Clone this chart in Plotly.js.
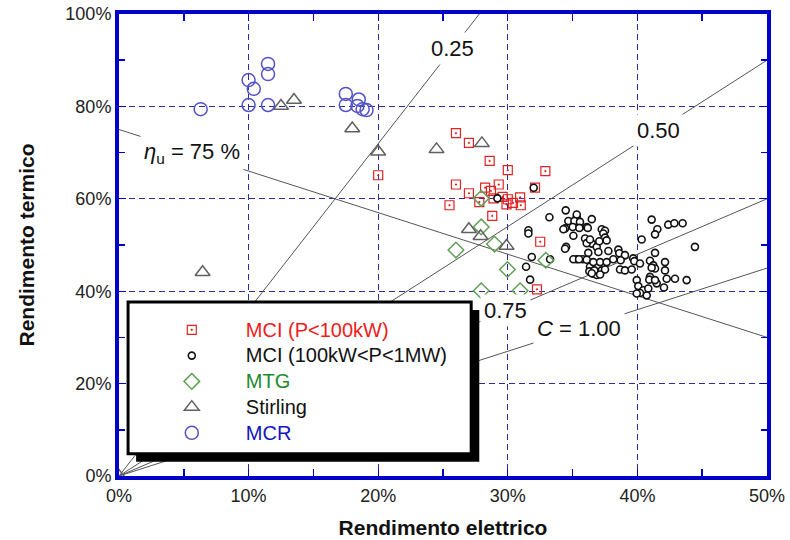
<!DOCTYPE html>
<html>
<head>
<meta charset="utf-8">
<script src="https://cdn.plot.ly/plotly-3.0.1.min.js"></script>
<style>
  html, body { margin: 0; padding: 0; background: #fff; }
  #chart { width: 790px; height: 540px; }
</style>
</head>
<body>
<div id="chart"></div>
<script>
// Rendimento elettrico / termico (%) per tecnologia di cogenerazione

// MCI (P<100kW)
const mciSmallX = [20.0, 26.0, 27.0, 28.6, 30.0, 32.9, 26.0, 27.0, 28.25, 28.7, 29.3, 25.5,
                   27.8, 28.9, 29.6, 30.0, 30.4, 30.95, 31.0, 29.9, 28.8, 32.1, 32.5, 32.25];
const mciSmallY = [65.1, 74.2, 72.1, 68.2, 66.2, 66.0, 63.1, 61.2, 62.4, 61.7, 63.1, 58.6,
                   59.3, 60.1, 60.4, 59.9, 59.1, 60.3, 58.6, 58.8, 56.3, 62.4, 50.7, 40.4];

// MCI (100kW<P<1MW)
const mciLargeX = [29.2, 32.0, 34.47, 33.21, 34.42, 35.01, 35.32, 35.57, 36.09, 36.48, 35.06, 34.5,
                   31.59, 31.59, 31.85, 31.41, 31.72, 35.96, 36.48, 36.86, 35.32, 35.78, 36.34, 36.6,
                   36.86, 35.32, 34.67, 35.14, 35.57, 34.29, 35.01, 35.52, 36.17, 37.25, 37.5, 37.37,
                   37.5, 37.63, 37.06, 36.09, 36.34, 34.42, 36.21, 36.99, 37.76, 38.53, 38.6, 39.04,
                   33.26, 35.06, 35.5, 36.09, 36.6, 37.12, 37.63, 38.14, 38.71, 39.68, 39.76, 40.2,
                   40.97, 41.23, 41.36, 42.13, 36.29, 36.68, 37.25, 37.5, 38.66, 39.04, 39.56, 41.1,
                   42.13, 37.12, 36.48, 40.97, 40.92, 41.49, 41.36, 42.26, 42.9, 43.8, 42.05, 39.95,
                   40.07, 40.45, 40.84, 40.72, 40.2, 39.95, 41.1, 42.38, 42.85, 43.49, 41.54, 41.36,
                   40.33, 41.36, 44.44];
const mciLargeY = [60.1, 62.4, 57.5, 56.0, 53.6, 55.0, 56.1, 53.9, 53.9, 55.6, 52.0, 49.6,
                   53.2, 52.5, 47.4, 45.3, 42.5, 51.4, 50.3, 49.6, 46.9, 46.9, 45.3, 43.8,
                   43.5, 56.6, 55.2, 55.2, 55.0, 53.4, 53.9, 53.7, 53.7, 53.4, 53.1, 52.5,
                   51.6, 51.0, 50.8, 50.4, 51.2, 49.2, 48.3, 48.5, 48.7, 49.0, 48.2, 47.8,
                   46.9, 46.9, 46.9, 46.8, 46.3, 46.3, 46.3, 46.9, 46.7, 47.1, 46.5, 46.0,
                   46.6, 45.6, 44.9, 46.3, 44.3, 44.5, 44.5, 44.7, 44.7, 44.5, 44.7, 45.1,
                   44.5, 43.6, 43.9, 43.1, 42.5, 41.7, 42.4, 42.7, 42.7, 42.4, 40.8, 42.4,
                   41.1, 40.2, 40.6, 39.1, 39.6, 39.5, 55.5, 54.4, 54.7, 54.7, 53.4, 52.3,
                   51.2, 48.3, 49.6];

// MTG
const mtgX = [27.95, 27.95, 26.0, 28.97, 29.97, 32.93, 27.95, 30.95];
const mtgY = [60.1, 53.9, 48.9, 50.2, 44.7, 46.7, 40.1, 40.1];

// Stirling
const stirX = [0, 6.45, 12.5, 13.5, 18.0, 20.0, 24.5, 28.0, 27.0, 27.9, 29.9];
const stirY = [0, 44.1, 80.1, 81.4, 75.2, 70.2, 70.7, 72.0, 53.4, 51.9, 49.8];

// MCR
const mcrX = [6.3, 10.0, 10.4, 10.0, 11.5, 11.5, 11.5, 17.5, 17.5, 18.5, 18.4, 18.8, 19.1];
const mcrY = [79.4, 85.7, 83.8, 80.3, 89.2, 87.0, 80.3, 82.7, 80.3, 81.5, 80.1, 79.4, 79.2];

// Rette a C costante (dall'origine) e retta a rendimento totale costante
const cLabels = ['0.25', '0.50', '0.75', '<i>C</i> = 1.00'];
const cLineEndX = [27.8, 50, 50, 50];
const cLineEndY = [100, 90, 60, 45];
const cLabelX = [25.7, 41.6, 29.8, 35.5];
const etaLineX = [0, 50];
const etaLineY = [75, 30];
const etaLabel = '<i>η</i><sub>u</sub> = 75 %';
const etaLabelX = 5.66;

const FONT = 'Liberation Sans, Arial, sans-serif';
const LINE_GREY = '#555555';
const FRAME = '#0000c8';

// legend entry text: 20px glyphs on a slightly tighter row pitch
const legendName = (txt, color) =>
  '<span style="color:' + color + ';font-size:20px">' + txt + '</span>';

const traces = [];

// reference lines
cLineEndX.forEach((ex, i) => {
  traces.push({
    x: [0, ex], y: [0, cLineEndY[i]], mode: 'lines', type: 'scatter',
    line: { color: LINE_GREY, width: 1 }, showlegend: false, hoverinfo: 'skip'
  });
});
traces.push({
  x: etaLineX, y: etaLineY, mode: 'lines', type: 'scatter',
  line: { color: LINE_GREY, width: 1 }, showlegend: false, hoverinfo: 'skip'
});

// data series
traces.push({
  x: mciSmallX, y: mciSmallY, mode: 'markers', type: 'scatter',
  name: legendName('MCI (P&lt;100kW)', '#ee1c1c'),
  marker: { symbol: 'square-open-dot', size: 9, color: '#e02424', line: { width: 1.2 } }
});
traces.push({
  x: mciLargeX, y: mciLargeY, mode: 'markers', type: 'scatter',
  name: legendName('MCI (100kW&lt;P&lt;1MW)', '#111111'),
  marker: { symbol: 'circle', size: 7, color: '#ffffff', line: { width: 1.6, color: '#111111' } }
});
traces.push({
  x: mtgX, y: mtgY, mode: 'markers', type: 'scatter',
  name: legendName('MTG', '#1e8a2e'),
  marker: { symbol: 'diamond-open', size: 12, color: '#62a058', line: { width: 1.5 } }
});
traces.push({
  x: stirX, y: stirY, mode: 'markers', type: 'scatter',
  name: legendName('Stirling', '#111111'),
  marker: { symbol: 'triangle-up-open', size: 13, color: '#606060', line: { width: 1.5 } }
});
traces.push({
  x: mcrX, y: mcrY, mode: 'markers', type: 'scatter',
  name: legendName('MCR', '#1414c0'),
  marker: { symbol: 'circle-open', size: 13, color: '#5252c8', line: { width: 1.5 } }
});

// line labels, placed on the lines with a white background
const annotations = cLabels.map((t, i) => ({
  x: cLabelX[i], y: cLabelX[i] * cLineEndY[i] / cLineEndX[i],
  xref: 'x', yref: 'y', text: t, showarrow: false,
  font: { family: FONT, size: 22, color: '#111' },
  bgcolor: '#ffffff', borderpad: 3
}));
annotations.push({
  x: etaLabelX,
  y: etaLineY[0] + (etaLineY[1] - etaLineY[0]) * (etaLabelX - etaLineX[0]) / (etaLineX[1] - etaLineX[0]),
  xref: 'x', yref: 'y', text: etaLabel, showarrow: false,
  font: { family: FONT, size: 22, color: '#111' },
  bgcolor: '#ffffff', borderpad: 3
});

// legend box with drop shadow
const shapes = [
  { type: 'rect', xref: 'paper', yref: 'paper', x0: 0.0264, x1: 0.556, y0: 0.031, y1: 0.3594,
    fillcolor: '#000000', line: { width: 0 }, layer: 'above' },
  { type: 'rect', xref: 'paper', yref: 'paper', x0: 0.014, x1: 0.5435, y0: 0.0483, y1: 0.3767,
    fillcolor: '#ffffff', line: { width: 3, color: '#000000' }, layer: 'above' }
];

const gridStyle = { showgrid: true, gridcolor: '#2c2ca0', gridwidth: 1, griddash: '6px,4px' };

const layout = {
  width: 790, height: 540,
  margin: { l: 119, r: 23, t: 14, b: 64 },
  paper_bgcolor: '#ffffff', plot_bgcolor: '#ffffff',
  font: { family: FONT, color: '#222' },
  showlegend: true,
  legend: {
    x: 0.029, y: 0.355, xanchor: 'left', yanchor: 'top',
    bgcolor: 'rgba(0,0,0,0)', borderwidth: 0,
    font: { family: FONT, size: 17.5, color: '#111' },
    itemwidth: 98, tracegroupgap: 0
  },
  xaxis: Object.assign({
    range: [0, 50], dtick: 10, ticksuffix: '%',
    showline: true, linecolor: FRAME, linewidth: 4, mirror: 'ticks',
    ticks: 'inside', ticklen: 7, tickcolor: FRAME,
    minor: { dtick: 5, ticks: 'inside', ticklen: 7, tickcolor: FRAME, tickwidth: 1.5, showgrid: false },
    zeroline: false,
    tickfont: { family: FONT, size: 18, color: '#222' },
    title: { text: '<b>Rendimento elettrico</b>', font: { family: FONT, size: 21, color: '#111' }, standoff: 17 }
  }, gridStyle),
  yaxis: Object.assign({
    range: [0, 100], dtick: 20, ticksuffix: '%',
    showline: true, linecolor: FRAME, linewidth: 4, mirror: 'ticks',
    ticks: 'inside', ticklen: 7, tickcolor: FRAME,
    minor: { dtick: 10, ticks: 'inside', ticklen: 6, tickcolor: FRAME, tickwidth: 1.5, showgrid: false },
    zeroline: false,
    tickfont: { family: FONT, size: 18, color: '#222' },
    title: { text: '<b>Rendimento termico</b>', font: { family: FONT, size: 21, color: '#111' }, standoff: 26 }
  }, gridStyle),
  shapes: shapes,
  annotations: annotations
};

Plotly.newPlot('chart', traces, layout, { displayModeBar: false, staticPlot: true });
</script>
</body>
</html>
